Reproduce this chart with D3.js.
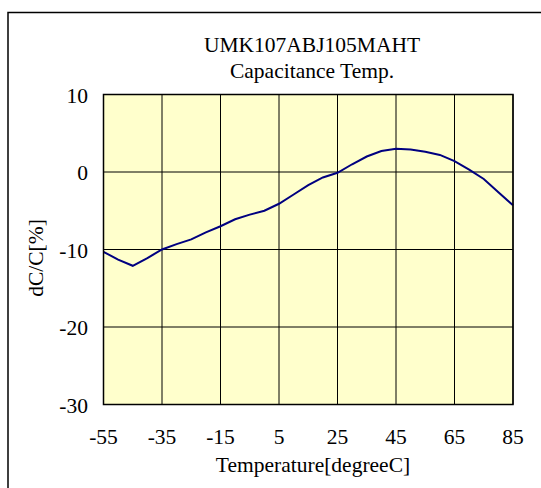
<!DOCTYPE html>
<html>
<head>
<meta charset="utf-8">
<script src="https://cdn.jsdelivr.net/npm/d3@7"></script>
<style>
  body { margin: 0; background: #fff; }
  text { font-family: "Liberation Serif", "Times New Roman", serif; fill: #000; }
</style>
</head>
<body>
<svg id="chart"></svg>
<script>
// temperature (degC) and capacitance change (%)
var temps = [-55, -50, -45, -40, -35, -30, -25, -20, -15, -10, -5, 0, 5, 10, 15,
             20, 25, 30, 35, 40, 45, 50, 55, 60, 65, 70, 75, 80, 85]
var dcc = [-10.3, -11.3, -12.1, -11.1, -10.0, -9.3, -8.7, -7.8, -7.0, -6.1, -5.5, -5.0, -4.1, -2.9, -1.7,
           -0.7, -0.1, 1.0, 2.0, 2.7, 3.0, 2.9, 2.6, 2.2, 1.4, 0.3, -0.9, -2.6, -4.3]
var xTicks = [-55, -35, -15, 5, 25, 45, 65, 85]
var yTicks = [-30, -20, -10, 0, 10]
var titleLines = ["UMK107ABJ105MAHT", "Capacitance Temp."]

var svg = d3.select("#chart")
var width = 541, height = 488
var fontSize = 21.5
svg.attr("width", width).attr("height", height)

//plot area
var plot = {left: 103.5, right: 513, top: 94.5, bottom: 404.5}

var x = d3.scaleLinear().domain([-55, 85]).range([plot.left, plot.right])
var y = d3.scaleLinear().domain([-30, 10]).range([plot.bottom, plot.top])

//outer frame (runs off the right and bottom edges)
svg.append("rect")
   .attr("x", 8).attr("y", 12.5)
   .attr("width", 600).attr("height", 600)
   .attr("fill", "none").attr("stroke", "#000").attr("stroke-width", 1.5)

//plot background
svg.append("rect")
   .attr("x", plot.left).attr("y", plot.top)
   .attr("width", plot.right - plot.left).attr("height", plot.bottom - plot.top)
   .attr("fill", "#ffffcc")

//grid
svg.append("g")
   .selectAll("line")
   .data(xTicks)
   .enter()
   .append("line")
   .attr("x1", d => x(d)).attr("x2", d => x(d))
   .attr("y1", plot.top).attr("y2", plot.bottom)
   .attr("stroke", "#000").attr("stroke-width", 1)

svg.append("g")
   .selectAll("line")
   .data(yTicks)
   .enter()
   .append("line")
   .attr("x1", plot.left).attr("x2", plot.right)
   .attr("y1", d => y(d)).attr("y2", d => y(d))
   .attr("stroke", "#000").attr("stroke-width", 1)

//curve
var line = d3.line()
             .x((d, i) => x(temps[i]))
             .y(d => y(d))
svg.append("path")
   .datum(dcc)
   .attr("d", line)
   .attr("fill", "none")
   .attr("stroke", "#000080")
   .attr("stroke-width", 2)

//plot border
svg.append("rect")
   .attr("x", plot.left).attr("y", plot.top)
   .attr("width", plot.right - plot.left).attr("height", plot.bottom - plot.top)
   .attr("fill", "none").attr("stroke", "#000").attr("stroke-width", 1.5)

//tick labels
svg.append("g")
   .selectAll("text")
   .data(yTicks)
   .enter()
   .append("text")
   .attr("x", 88)
   .attr("y", d => y(d) + 8)
   .attr("text-anchor", "end")
   .attr("font-size", fontSize)
   .text(d => d)

svg.append("g")
   .selectAll("text")
   .data(xTicks)
   .enter()
   .append("text")
   .attr("x", d => x(d))
   .attr("y", 444)
   .attr("text-anchor", "middle")
   .attr("font-size", fontSize)
   .text(d => d)

//titles
svg.append("g")
   .selectAll("text")
   .data(titleLines)
   .enter()
   .append("text")
   .attr("x", 312)
   .attr("y", (d, i) => 52 + i * 26)
   .attr("text-anchor", "middle")
   .attr("font-size", fontSize)
   .text(d => d)

svg.append("text")
   .attr("x", 313).attr("y", 472)
   .attr("text-anchor", "middle")
   .attr("font-size", fontSize)
   .text("Temperature[degreeC]")

svg.append("text")
   .attr("transform", "translate(43,258) rotate(-90)")
   .attr("text-anchor", "middle")
   .attr("font-size", fontSize)
   .text("dC/C[%]")
</script>
</body>
</html>
